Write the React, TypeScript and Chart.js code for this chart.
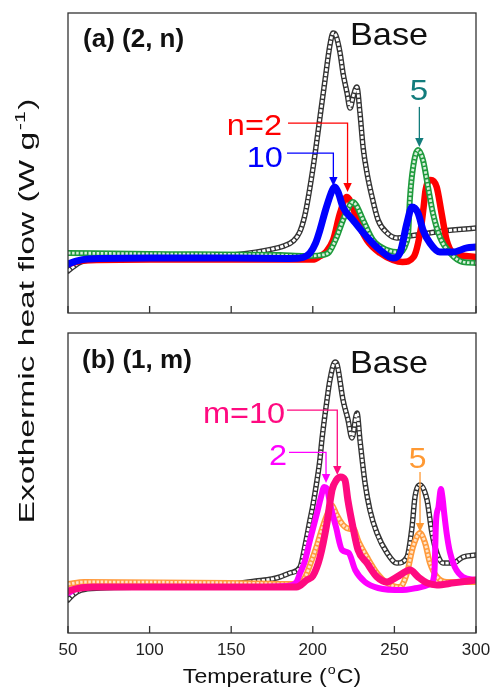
import React, { useEffect, useRef } from "react";
import { Chart, registerables } from "chart.js";
Chart.register(...registerables);

const FONT = "'Liberation Sans', Arial, Helvetica, sans-serif";

// ---------- Panel (a): (2, n) ----------
const aBaseT = [50, 53, 58, 70, 100, 136, 150, 165, 175, 182, 188, 192, 195.2, 198.3, 201.3, 204.4, 207.5, 210.5, 212.4, 214, 216.7, 218.5, 221, 222.8, 225, 227, 228.9, 230.8, 233.2, 236.3, 240, 245.5, 251.6, 260, 280, 300];
const aBaseY = [14, 15.3, 17, 18, 18.3, 18.7, 19.3, 20.3, 21.3, 22.3, 24, 27, 32.7, 42, 52.7, 65.3, 77.7, 89.3, 93.3, 92.7, 86.7, 80, 73.3, 68.3, 72.7, 75.3, 66.7, 55.3, 46.7, 38.7, 31, 26.7, 25, 25.7, 27.3, 28.3];

const aRedT = [50, 60, 100, 190, 200, 204.4, 208, 212.4, 216.7, 220.8, 224, 227.1, 233.2, 241.2, 249.1, 255, 261.8, 266.1, 267.9, 269.1, 272.2, 275.9, 278.9, 282, 286.3, 300];
const aRedY = [16.3, 17.5, 17.8, 17.8, 17.8, 18.9, 20.3, 24.3, 33.3, 38.7, 36, 31, 24.3, 20, 17.7, 17, 18.7, 27.7, 35.3, 41, 44.3, 42, 33.3, 24.3, 20, 18.7];

const aGreenT = [50, 100, 180, 195, 205, 210, 214.6, 218.5, 222.5, 224.5, 226.5, 230.8, 236.9, 245.5, 253.4, 257, 258.5, 259.5, 261.5, 264.5, 267.5, 270.6, 273.6, 277.9, 284.1, 292, 300];
const aGreenY = [20, 19.7, 19.3, 19, 19.3, 20.3, 25.3, 31, 35.7, 37, 36, 31, 24.3, 21, 20.3, 23, 27, 38, 48.7, 54.3, 51, 42, 33.3, 25.3, 20, 17, 16.7];

const aBlueT = [50, 55, 62, 100, 150, 185, 192, 196, 198.3, 201.7, 204.4, 207.8, 212, 213.5, 215.5, 218.5, 224.6, 233.2, 241.2, 249.1, 253.4, 257.7, 260.8, 264.5, 267.5, 271.8, 277.9, 285.8, 294.4, 300];
const aBlueY = [16.3, 17.3, 18, 18.3, 18.3, 18.2, 18.3, 19, 20, 23.3, 27.7, 34.3, 41, 42, 40.3, 35.3, 31, 25.3, 21, 18.3, 20, 30, 35.3, 33.3, 27.7, 23.3, 20.3, 20.3, 21.7, 22];

// ---------- Panel (b): (1, m) ----------
const bBaseT = [50, 53, 58, 70, 100, 131, 150, 165, 175, 180, 186, 192.2, 195.2, 198.3, 200.1, 202.6, 204.4, 205.6, 208.7, 210.5, 213.6, 215, 218.5, 221.6, 224, 227.1, 228.9, 232, 235, 239.3, 245.5, 251.6, 257.7, 260.8, 262.6, 265.7, 270, 273, 276, 279.7, 285.8, 292, 300];
const bBaseY = [11, 12.7, 14.3, 15, 15.3, 15.7, 16.3, 17.3, 18, 18.7, 20, 22, 29, 37.7, 42.7, 51, 58, 64.5, 77.7, 84.3, 90.3, 89.3, 77.7, 71, 65, 73.3, 64.3, 50, 41, 33.3, 26.7, 23.3, 25.3, 35.3, 45.3, 49.3, 44.3, 33.3, 26.7, 23.3, 23.3, 25.3, 26];

const bOrangeT = [50, 60, 150, 190, 195, 198.3, 202.6, 206, 209.2, 211.5, 214.5, 218.5, 222.8, 224.6, 228, 233.2, 239.3, 245.5, 253.4, 257.7, 261.4, 265.7, 268.8, 271.8, 276.1, 282.2, 300];
const bOrangeY = [16.3, 17, 16.7, 16.3, 18.3, 22.7, 29.3, 35.3, 40, 42.7, 39.5, 36, 34.7, 35, 30.5, 25.3, 20, 16.7, 15.3, 20, 28.7, 33.3, 30, 23.3, 18.7, 17, 17];

const bMagentaT = [50, 55, 65, 150, 185, 190, 192.2, 195, 198.3, 202.6, 205, 207, 208.5, 211, 214.2, 217.9, 222, 226, 232, 240, 255, 264, 272, 274.5, 275, 275.5, 277, 278.5, 279.5, 280.5, 282, 284, 287, 292, 300];
const bMagentaY = [13.3, 14.7, 15.3, 15.3, 15.7, 17, 20, 23.7, 31, 40, 45.3, 48.7, 48.3, 42, 35.3, 27.7, 26.7, 21, 17, 15, 14.3, 15, 16.3, 20, 28, 37, 42, 48, 45, 40, 33.3, 27, 22, 18.7, 17.7];

const bPinkT = [50, 55, 65, 150, 190, 196.4, 200, 204.4, 208.7, 211.8, 214.5, 217, 219.7, 221.5, 224.6, 227.7, 233.2, 239.3, 245.5, 251.6, 259.6, 264.5, 270, 276, 286.3, 300];
const bPinkY = [14, 14.7, 15.3, 15.3, 15.3, 17.7, 19, 25.3, 36.7, 47.7, 51, 52, 51, 44.3, 35.3, 27.7, 23.3, 18.7, 17, 18.7, 21, 18.7, 16.7, 16, 16.7, 17.7];

const xTicks = [50, 100, 150, 200, 250, 300];
const xTitle = "Temperature (";
const xTitleSup = "o";
const xTitleEnd = "C)";
const yTitle = "Exothermic heat flow (W g";
const yTitleSup = "-1";
const yTitleEnd = ")";

type Note = {
  text: string;
  color: string;
  tx: number;
  ty: number;
  align: "left" | "right" | "center";
  size: number;
  bold?: boolean;
  sx?: number;
  path?: [number, number][];
};

const notesA: Note[] = [
  { text: "(a) (2, n)", color: "#111", tx: 59.2, ty: 88.7, align: "left", size: 26, bold: true },
  { text: "Base", color: "#111", tx: 222.8, ty: 89.3, align: "left", size: 32, sx: 1.07 },
  { text: "n=2", color: "#FF0000", tx: 181.1, ty: 59.3, align: "right", size: 29, sx: 1.12, path: [[184.8, 63.3], [221.3, 63.3], [221.3, 40.3]] },
  { text: "10", color: "#0000FF", tx: 181.7, ty: 48.7, align: "right", size: 29, sx: 1.12, path: [[184.2, 53.3], [212.6, 53.3], [212.6, 42.3]] },
  { text: "5", color: "#127C7C", tx: 265, ty: 71, align: "center", size: 30, sx: 1.1, path: [[265.3, 68.7], [265.3, 55.3]] },
];

const notesB: Note[] = [
  { text: "(b) (1, m)", color: "#111", tx: 58.6, ty: 88.3, align: "left", size: 26, bold: true },
  { text: "Base", color: "#111", tx: 222.8, ty: 86.7, align: "left", size: 32, sx: 1.07 },
  { text: "m=10", color: "#FF0A80", tx: 183, ty: 70, align: "right", size: 29, sx: 1.12, path: [[184.2, 74.3], [215, 74.3], [215, 52.7]] },
  { text: "2", color: "#FF00FF", tx: 184.2, ty: 56, align: "right", size: 29, sx: 1.12, path: [[185.4, 60.2], [208.1, 60.2], [208.1, 50]] },
  { text: "5", color: "#FF9933", tx: 264.2, ty: 55, align: "center", size: 29, sx: 1.1, path: [[265.7, 53.7], [265.7, 33.7]] },
];

function band(label: string, t: number[], y: number[], color: string, width: number, order: number, extra: any = {}) {
  return {
    label,
    data: t.map((x, i) => ({ x, y: y[i] })),
    borderColor: color,
    backgroundColor: color,
    borderWidth: width,
    pointRadius: 0,
    fill: false,
    cubicInterpolationMode: "monotone",
    borderCapStyle: "round",
    borderJoinStyle: "round",
    clip: 0,
    order,
    ...extra,
  };
}

function drawText(ctx: CanvasRenderingContext2D, text: string, x: number, y: number, font: string, color: string, align: string, sx = 1) {
  ctx.save();
  ctx.font = font;
  ctx.fillStyle = color;
  ctx.textBaseline = "alphabetic";
  ctx.textAlign = "left";
  const w = ctx.measureText(text).width * sx;
  let left = x;
  if (align === "right") left = x - w;
  else if (align === "center") left = x - w / 2;
  ctx.translate(left, y);
  ctx.scale(sx, 1);
  ctx.fillText(text, 0, 0);
  ctx.restore();
}

function drawArrow(ctx: CanvasRenderingContext2D, pts: [number, number][], color: string) {
  ctx.save();
  ctx.strokeStyle = color;
  ctx.fillStyle = color;
  ctx.lineWidth = 1.3;
  const n = pts.length;
  const [tx, ty] = pts[n - 1];
  const [px, py] = pts[n - 2];
  const head = 9;
  const half = 4.2;
  const ang = Math.atan2(ty - py, tx - px);
  const bx = tx - head * Math.cos(ang);
  const by = ty - head * Math.sin(ang);
  ctx.beginPath();
  ctx.moveTo(pts[0][0], pts[0][1]);
  for (let i = 1; i < n - 1; i++) ctx.lineTo(pts[i][0], pts[i][1]);
  ctx.lineTo(bx, by);
  ctx.stroke();
  ctx.beginPath();
  ctx.moveTo(tx, ty);
  ctx.lineTo(bx + half * Math.sin(ang), by - half * Math.cos(ang));
  ctx.lineTo(bx - half * Math.sin(ang), by + half * Math.cos(ang));
  ctx.closePath();
  ctx.fill();
  ctx.restore();
}

function panelPlugin(notes: Note[], withAxis: boolean) {
  return {
    id: "panelDecor" + (withAxis ? "B" : "A"),
    afterDraw(chart: any) {
      const ctx: CanvasRenderingContext2D = chart.ctx;
      const a = chart.chartArea;
      const xs = chart.scales.x;
      const ys = chart.scales.y;
      ctx.save();
      ctx.strokeStyle = "#333";
      ctx.lineWidth = 1.3;
      ctx.strokeRect(a.left, a.top, a.right - a.left, a.bottom - a.top);
      ctx.beginPath();
      for (const v of xTicks) {
        const px = xs.getPixelForValue(v);
        ctx.moveTo(px, a.bottom);
        ctx.lineTo(px, a.bottom - 7);
      }
      ctx.stroke();
      ctx.restore();

      for (const nt of notes) {
        const font = `${nt.bold ? "bold " : ""}${nt.size}px ${FONT}`;
        drawText(ctx, nt.text, xs.getPixelForValue(nt.tx), ys.getPixelForValue(nt.ty), font, nt.color, nt.align, nt.sx || 1);
        if (nt.path) {
          drawArrow(ctx, nt.path.map(([t, v]) => [xs.getPixelForValue(t), ys.getPixelForValue(v)] as [number, number]), nt.color);
        }
      }

      if (withAxis) {
        for (const v of xTicks) {
          drawText(ctx, String(v), xs.getPixelForValue(v), a.bottom + 22, `17px ${FONT}`, "#222", "center");
        }
        ctx.save();
        const sx = 1.1;
        ctx.font = `21px ${FONT}`;
        const w1 = ctx.measureText(xTitle).width;
        ctx.font = `13px ${FONT}`;
        const w2 = ctx.measureText(xTitleSup).width;
        ctx.font = `21px ${FONT}`;
        const w3 = ctx.measureText(xTitleEnd).width;
        const total = (w1 + w2 + w3 + 2) * sx;
        const cx = (a.left + a.right) / 2;
        ctx.translate(cx - total / 2, a.bottom + 50);
        ctx.scale(sx, 1);
        ctx.fillStyle = "#111";
        ctx.textBaseline = "alphabetic";
        ctx.fillText(xTitle, 0, 0);
        ctx.font = `13px ${FONT}`;
        ctx.fillText(xTitleSup, w1 + 1, -9);
        ctx.font = `21px ${FONT}`;
        ctx.fillText(xTitleEnd, w1 + w2 + 2, 0);
        ctx.restore();

        ctx.save();
        ctx.font = `22px ${FONT}`;
        const m1 = ctx.measureText(yTitle).width;
        ctx.font = `14px ${FONT}`;
        const m2 = ctx.measureText(yTitleSup).width;
        ctx.font = `22px ${FONT}`;
        const m3 = ctx.measureText(yTitleEnd).width;
        const natural = m1 + m2 + m3 + 2;
        const target = 425;
        const ysx = target / natural;
        ctx.translate(34, 311);
        ctx.rotate(-Math.PI / 2);
        ctx.translate(-target / 2, 0);
        ctx.scale(ysx, 1);
        ctx.fillStyle = "#111";
        ctx.textBaseline = "alphabetic";
        ctx.fillText(yTitle, 0, 0);
        ctx.font = `14px ${FONT}`;
        ctx.fillText(yTitleSup, m1 + 1, -9);
        ctx.font = `22px ${FONT}`;
        ctx.fillText(yTitleEnd, m1 + m2 + 2, 0);
        ctx.restore();
      }
    },
  };
}

function baseOptions(padTop: number, padBottom: number) {
  return {
    responsive: false,
    animation: false,
    events: [],
    layout: { padding: { left: 68, right: 15, top: padTop, bottom: padBottom } },
    plugins: { legend: { display: false }, tooltip: { enabled: false }, title: { display: false } },
    scales: {
      x: { type: "linear", min: 50, max: 300, display: false },
      y: { type: "linear", min: 0, max: 100, display: false },
    },
  };
}

export default function App() {
  const refA = useRef<HTMLCanvasElement | null>(null);
  const refB = useRef<HTMLCanvasElement | null>(null);

  useEffect(() => {
    const chartA = new Chart(refA.current as HTMLCanvasElement, {
      type: "line",
      data: {
        datasets: [
          band("10", aBlueT, aBlueY, "#0000FF", 7, 1),
          band("5 inner", aGreenT, aGreenY, "#D6F0DA", 2.8, 2, { borderDash: [2.5, 1.6], borderCapStyle: "butt" }),
          band("5", aGreenT, aGreenY, "#1E9A3C", 6, 3),
          band("n=2", aRedT, aRedY, "#FF0000", 6.5, 4),
          band("Base inner", aBaseT, aBaseY, "#FFFFFF", 2.8, 5, { borderDash: [3.2, 1.4], borderCapStyle: "butt" }),
          band("Base", aBaseT, aBaseY, "#333333", 5.5, 6),
        ] as any,
      },
      options: baseOptions(13, 376) as any,
      plugins: [panelPlugin(notesA, false)],
    });
    const chartB = new Chart(refB.current as HTMLCanvasElement, {
      type: "line",
      data: {
        datasets: [
          band("m=10", bPinkT, bPinkY, "#FF0A80", 7, 1),
          band("2", bMagentaT, bMagentaY, "#FF00FF", 6, 2),
          band("5 inner", bOrangeT, bOrangeY, "#FFE4C8", 2.8, 3, { borderDash: [2.5, 1.6], borderCapStyle: "butt" }),
          band("5", bOrangeT, bOrangeY, "#FF9A3C", 6, 4),
          band("Base inner", bBaseT, bBaseY, "#FFFFFF", 2.8, 5, { borderDash: [3.2, 1.4], borderCapStyle: "butt" }),
          band("Base", bBaseT, bBaseY, "#333333", 5.5, 6),
        ] as any,
      },
      options: baseOptions(333, 56) as any,
      plugins: [panelPlugin(notesB, true)],
    });
    return () => {
      chartA.destroy();
      chartB.destroy();
    };
  }, []);

  const cstyle: React.CSSProperties = { position: "absolute", left: 0, top: 0, width: 491, height: 689 };
  return (
    <div style={{ position: "absolute", left: 0, top: 0, width: 491, height: 689, background: "#fff" }}>
      <canvas ref={refA} width={491} height={689} style={cstyle} />
      <canvas ref={refB} width={491} height={689} style={cstyle} />
    </div>
  );
}
